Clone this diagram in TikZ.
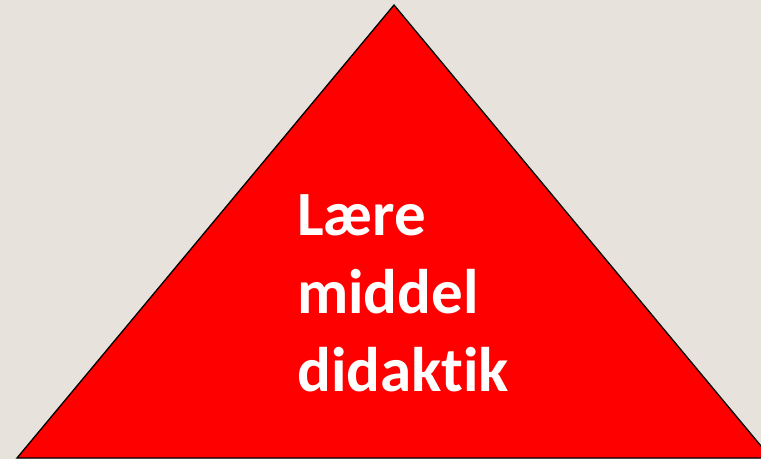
\documentclass[tikz,border=0pt]{standalone}
\usepackage{fontspec}
\setmainfont[Ligatures=NoCommon]{Carlito}
\usepackage{tikz}
\usetikzlibrary{positioning}
\definecolor{bgbeige}{RGB}{231,227,220}
\definecolor{pyrred}{RGB}{255,0,0}

\begin{document}
\begin{tikzpicture}[
    x=1pt, y=-1pt,
    tri/.style={draw=black, line width=1.3pt, fill=pyrred, line join=miter},
    lbl/.style={text=white, font=\fontsize{63}{78}\selectfont\bfseries, align=left, inner sep=0pt}
]
\fill[bgbeige] (0,0) rectangle (761,459);
\useasboundingbox (0,0) rectangle (761,459);
\coordinate (top) at (394,5);
\coordinate (bl) at (17,458);
\coordinate (br) at (771,458);
\draw[tri] (top) -- (br) -- (bl) -- cycle;
\node[lbl, anchor=base west] (txt) at (297,391) {Lære\\middel\\didaktik};
\end{tikzpicture}
\end{document}
